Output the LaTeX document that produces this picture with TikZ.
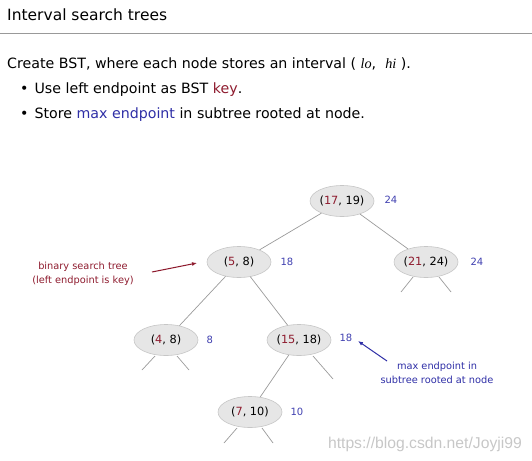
\documentclass[tikz,border=0pt]{standalone}
\usepackage{fontspec}
\setmainfont{DejaVu Sans}
\newfontfamily\serifit{Liberation Serif}
\newfontfamily\wmfont{Liberation Sans}
\usetikzlibrary{shapes.geometric,arrows.meta}
\definecolor{keyred}{HTML}{8E1B2E}
\definecolor{maxblue}{HTML}{2E2EA6}
\definecolor{numblue}{HTML}{4040B0}
\definecolor{nodefill}{HTML}{E6E6E6}
\definecolor{nodeline}{HTML}{C6C6C6}
\definecolor{edgegray}{HTML}{9A9A9A}
\tikzset{
  iv/.style={ellipse, fill=nodefill, draw=nodeline, line width=0.6pt, minimum width=64pt, minimum height=31pt, inner sep=0pt, font=\fontsize{11.3}{13}\selectfont},
  mx/.style={anchor=west, text=numblue, font=\fontsize{10}{12}\selectfont},
  edge/.style={draw=edgegray, line width=0.7pt},
  txt/.style={anchor=base west, inner sep=0pt, font=\fontsize{14.2}{16}\selectfont},
  ann/.style={align=center, font=\fontsize{9.8}{14}\selectfont},
}
\newcommand{\kk}[1]{\textcolor{keyred}{#1}}
\begin{document}
\begin{tikzpicture}[x=1pt,y=-1pt]
\useasboundingbox (0,0) rectangle (532,460);
% header
\node[anchor=base west, inner sep=0pt, font=\fontsize{15.5}{17}\selectfont] (title) at (7,21) {Interval search trees};
\draw[draw=gray!80, line width=0.8pt] (0,33) coordinate (hl) -- (532,33) coordinate (hr);
\node[txt] (t1) at (7,68) {Create BST, where each node stores an interval ( {\serifit\itshape lo}, \ {\serifit\itshape hi} ).};
\node[txt] (b1) at (20,93) {\textbullet\hspace{6pt}Use left endpoint as BST \textcolor{keyred}{key}.};
\node[txt] (b2) at (20,118) {\textbullet\hspace{6pt}Store \textcolor{maxblue}{max endpoint} in subtree rooted at node.};
% tree nodes
\node[iv] (r) at (342,201) {(\kk{17}, 19)};
\node[iv] (a) at (239,262) {(\kk{5}, 8)};
\node[iv] (b) at (426,262) {(\kk{21}, 24)};
\node[iv] (c) at (166,340) {(\kk{4}, 8)};
\node[iv] (d) at (299,340) {(\kk{15}, 18)};
\node[iv] (e) at (250,412) {(\kk{7}, 10)};
% max labels
\node[mx] (mr) at (381,200) {24};
\node[mx] (ma) at (277,262) {18};
\node[mx] (mb) at (467,262) {24};
\node[mx] (mc) at (203,340) {8};
\node[mx] (md) at (336,338) {18};
\node[mx] (me) at (287,412) {10};
% edges
\draw[edge] (r) -- (a);
\draw[edge] (r) -- (b);
\draw[edge] (a) -- (c);
\draw[edge] (a) -- (d);
\draw[edge] (d) -- (e);
% stubs
\coordinate (b1s) at (413,277); \coordinate (b1e) at (401,292);
\coordinate (b2s) at (439,277); \coordinate (b2e) at (451,292);
\coordinate (c1s) at (155,356); \coordinate (c1e) at (142,370);
\coordinate (c2s) at (177,356); \coordinate (c2e) at (189,370);
\coordinate (d2s) at (313,356); \coordinate (d2e) at (333,379);
\coordinate (e1s) at (237,428); \coordinate (e1e) at (224,443);
\coordinate (e2s) at (262,428); \coordinate (e2e) at (273,443);
\foreach \p in {b1,b2,c1,c2,d2,e1,e2} \draw[edge] (\p s) -- (\p e);
% annotations
\node[ann, text=keyred] (bst) at (83,274) {binary search tree\\(left endpoint is key)};
\coordinate (bsta) at (152,272);
\draw[keyred, line width=1pt, -{Latex[length=5pt,width=4pt]}] (bsta) -- (197,263) coordinate (bstb);
\node[ann, text=maxblue] (mxe) at (437,373) {max endpoint in\\subtree rooted at node};
\coordinate (mxa) at (387,361);
\draw[maxblue, line width=1pt, -{Latex[length=5pt,width=4pt]}] (mxa) -- (358,341) coordinate (mxb);
% watermark
\node[anchor=base east, text=black!22, font=\wmfont\fontsize{15.7}{17}\selectfont, inner sep=0pt] (wm) at (522,448) {https://blog.csdn.net/Joyji99};
\end{tikzpicture}
\end{document}
